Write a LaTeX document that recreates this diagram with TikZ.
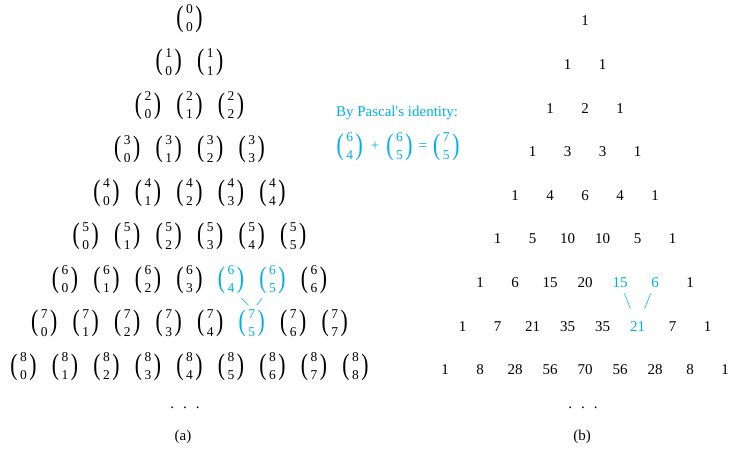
\documentclass[tikz,border=0pt]{standalone}
\usepackage{graphicx}
\usepackage{fontspec}
\setmainfont{Liberation Serif}
\definecolor{pcyan}{RGB}{0,174,239}
\newcommand\bpar[1]{\vcenter{\hbox{\fontsize{16}{16}\selectfont\scalebox{1.35}[1.85]{#1}}}}
\newcommand\bnm[2]{$\bpar{(}\hspace{2.6pt}\vcenter{\hbox{\fontsize{13.5}{18}\selectfont\begin{tabular}{@{}c@{}}#1\\#2\end{tabular}}}\hspace{2.6pt}\bpar{)}$}
\begin{document}
\begin{tikzpicture}[x=1pt,y=-1pt,
  bn/.style={inner sep=0pt, minimum width=24pt, minimum height=30pt, font=\fontsize{15}{18}\selectfont},
  num/.style={inner sep=0pt, font=\fontsize{15}{18}\selectfont},
  link/.style={draw=pcyan, line width=0.6pt}]
\useasboundingbox (0,0) rectangle (730,456);
% (a) binomial coefficients
\foreach \r in {0,...,8}{
  \foreach \k in {0,...,\r}{
    \pgfmathtruncatemacro\hl{((\r==6)&&((\k==4)||(\k==5)))||((\r==7)&&(\k==5))}
    \ifnum\hl=1 \def\col{pcyan}\else\def\col{black}\fi
    \node[bn, text=\col] (b\r\k) at ({189.5+41.5*(\k-\r/2)}, {19+43.5*\r}) {\bnm{\r}{\k}};
  }
}
\draw[link] (b64.-60) -- (b75.100);
\draw[link] (b65.-120) -- (b75.75);
\node[num] (adots) at (185,408) {.\hspace{9pt}.\hspace{9pt}.};
\node[num] (alab) at (183,437) {(a)};
% identity
\node[num, text=pcyan] (ptitle) at (397,113) {By Pascal\textquotesingle s identity:};
\node[bn, text=pcyan] (pform) at (398,147) {\bnm{6}{4}\hspace{8pt}+\hspace{7pt}\bnm{6}{5}\hspace{6pt}=\hspace{6pt}\bnm{7}{5}};
% (b) numbers
\foreach \r/\vals in {0/{1},1/{1,1},2/{1,2,1},3/{1,3,3,1},4/{1,4,6,4,1},5/{1,5,10,10,5,1},6/{1,6,15,20,15,6,1},7/{1,7,21,35,35,21,7,1},8/{1,8,28,56,70,56,28,8,1}}{
  \foreach \v [count=\k from 0] in \vals {
    \pgfmathtruncatemacro\hl{((\r==6)&&((\k==4)||(\k==5)))||((\r==7)&&(\k==5))}
    \ifnum\hl=1 \def\col{pcyan}\else\def\col{black}\fi
    \node[num, text=\col] (r\r\k) at ({585+35*(\k-\r/2)}, {21+43.6*\r}) {\v};
  }
}
\draw[link, shorten <=12pt, shorten >=19pt] (r64.center) -- (r75.center);
\draw[link, shorten <=12pt, shorten >=19pt] (r65.center) -- (r75.center);
\node[num] (bdots) at (583,408) {.\hspace{9pt}.\hspace{9pt}.};
\node[num] (blab) at (582,437) {(b)};
\end{tikzpicture}
\end{document}
